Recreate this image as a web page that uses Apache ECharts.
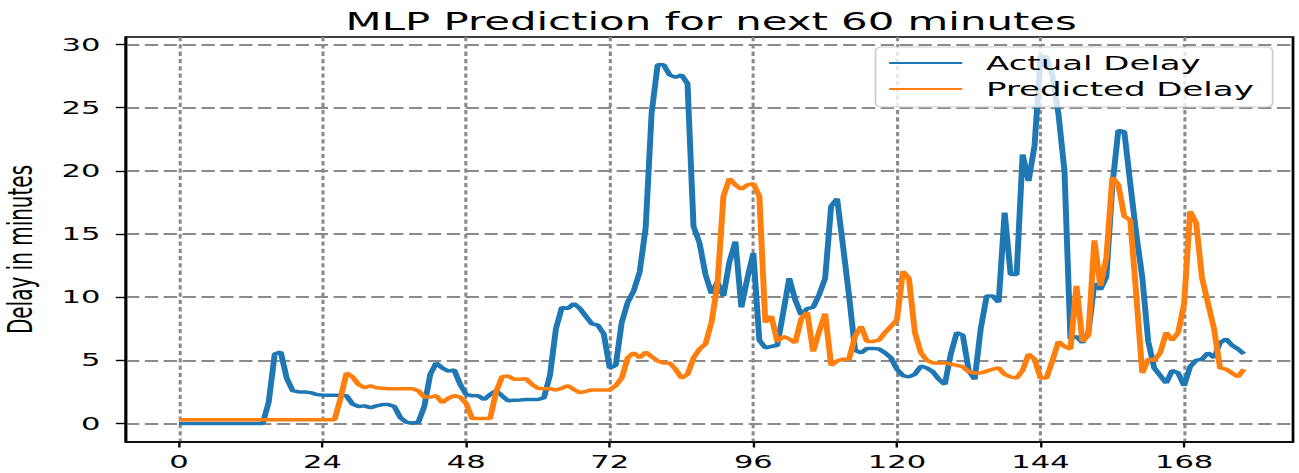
<!DOCTYPE html>
<html>
<head>
<meta charset="utf-8">
<script src="https://cdn.jsdelivr.net/npm/echarts@6/dist/echarts.min.js"></script>
<style>
html,body{margin:0;padding:0;background:#fff;overflow:hidden;width:1299px;height:473px;}
#wrap{position:absolute;left:0;top:0;height:473px;transform-origin:0 0;}
</style>
</head>
<body>
<div id="wrap"></div>
<script>
// ---- data ----
const actualDelay = [
  0,0,0,0,0,0,0,0,0,0, 0,0,0,0,0,1.7,5.5,5.66,3.6,2.6,
  2.5,2.5,2.45,2.3,2.25,2.25,2.25,2.25,2.2,1.55, 1.35,1.4,1.25,1.4,1.5,1.5,1.35,0.47,0.1,0.05,
  0.1,1.35,3.9,4.8,4.4,4.15,4.24,3.1,2.3,2.2, 2.2,1.9,2.3,2.6,2.2,1.8,1.85,1.87,1.9,1.9,
  1.9,2.05,3.8,7.5,9.2,9.1,9.5,9.1,8.5,7.9, 7.8,7.1,4.4,4.6,8.0,9.6,10.5,12.0,15.5,24.6,
  28.4,28.4,27.6,27.4,27.6,26.9,15.6,14.3,11.8,10.3, 11.2,10.1,12.8,14.4,9.2,11.5,13.5,6.6,6.0,6.1,
  6.2,8.8,11.5,9.8,8.6,9.1,9.2,10.2,11.5,17.2, 17.8,14.0,10.1,5.8,5.6,5.95,5.95,5.9,5.6,5.2,
  4.3,3.8,3.7,3.9,4.55,4.4,4.1,3.5,3.1,5.5, 7.2,7.0,4.2,3.5,7.5,10.1,10.1,9.6,16.7,11.8,
  11.8,21.3,19.2,22.0,29.1,29.0,27.5,24.5,20.0,6.7, 6.9,6.4,7.2,11.1,10.6,11.6,18.8,23.2,23.1,19.0,
  15.0,11.6,6.5,4.4,3.8,3.2,4.2,4.0,3.0,4.5, 5.0,5.1,5.6,5.2,6.4,6.7,6.2,5.9,5.5
];
const predictedDelay = [
  0.3,0.3,0.3,0.3,0.3,0.3,0.3,0.3,0.3,0.3, 0.3,0.3,0.3,0.3,0.3,0.3,0.3,0.3,0.3,0.3,
  0.3,0.3,0.3,0.3,0.3,0.3,0.3,2.0,4.0,3.7, 3.1,2.84,3.0,2.84,2.8,2.76,2.76,2.76,2.76,2.76,
  2.6,2.1,2.1,2.2,1.66,2.0,2.2,2.1,1.6,0.4, 0.4,0.4,0.4,2.5,3.7,3.76,3.5,3.5,3.55,3.1,
  2.8,2.76,2.76,2.65,2.8,3.0,2.7,2.45,2.55,2.66, 2.66,2.66,2.66,3.0,3.6,5.2,5.6,5.2,5.66,5.3,
  4.95,4.8,4.8,4.3,3.6,3.9,5.2,5.9,6.3,8.0, 11.0,18.0,19.4,18.9,18.55,18.9,19.0,18.0,8.0,8.5,
  6.5,6.9,6.7,6.4,8.3,8.8,5.7,7.3,8.7,4.6, 4.95,5.1,5.1,6.9,7.7,6.5,6.5,6.6,7.2,7.7,
  8.2,12.05,11.5,7.2,5.6,5.0,4.8,4.8,4.8,4.7, 4.6,4.5,4.1,4.0,4.0,4.15,4.3,4.4,3.9,3.7,
  3.6,4.2,5.5,5.1,3.6,3.6,5.0,6.5,6.1,5.9, 10.9,6.5,7.0,14.5,10.9,13.1,19.5,18.9,16.4,16.1,
  10.2,4.0,5.1,5.0,5.6,7.2,6.6,7.2,9.5,16.8, 15.9,11.5,9.5,7.5,4.4,4.3,4.0,3.7,4.3
];
const xTicks = [0, 24, 48, 72, 96, 120, 144, 168];
const yTicks = [0, 5, 10, 15, 20, 25, 30];
const seriesNames = ['Actual Delay', 'Predicted Delay'];
const titleText = 'MLP Prediction for next 60 minutes';
const yLabel = 'Delay in minutes';

// ---- layout (horizontal stretch like reference) ----
const S = 1.7;
const W = 1299 / S;
const H = 473;
const wrap = document.getElementById('wrap');
wrap.style.width = W + 'px';
wrap.style.transform = 'scale(' + S + ',1)';

const FONT = 'DejaVu Sans';
const chart = echarts.init(wrap, null, {renderer: 'svg', width: W, height: H});

const actualPts = actualDelay.map((v, i) => [i, v]);
const predPts = predictedDelay.map((v, i) => [i, v]);

chart.setOption({
  animation: false,
  backgroundColor: '#fff',
  title: {
    text: titleText,
    left: (74.1 + 760.6) / 2 - 4,
    textAlign: 'center',
    top: 4,
    textStyle: {fontFamily: FONT, fontSize: 24.6, fontWeight: 'normal', color: '#000'}
  },
  legend: {
    orient: 'vertical',
    left: 515,
    top: 47,
    z: 20,
    itemWidth: 43,
    itemHeight: 20,
    itemGap: 6,
    padding: [6, 11, 8, 7],
    backgroundColor: 'rgba(255,255,255,0.8)',
    borderColor: '#cccccc',
    borderWidth: 1,
    borderRadius: 4,
    lineStyle: {width: 2},
    itemStyle: {opacity: 0},
    textStyle: {fontFamily: FONT, fontSize: 20, color: '#000', padding: [0, 0, 0, 9]},
    data: seriesNames
  },
  grid: {
    left: 74.1, right: W - 760.6, top: 37, bottom: H - 442,
    outerBoundsMode: 'none',
    show: true, borderColor: '#000', borderWidth: 1.6, backgroundColor: 'transparent',
    containLabel: false
  },
  xAxis: {
    type: 'value',
    min: -8.86,
    max: 186.2,
    axisLine: {show: true, onZero: false, lineStyle: {color: '#000', width: 1.6}},
    axisTick: {show: true, length: 5.5, lineStyle: {color: '#000', width: 1.4}, customValues: xTicks},
    axisLabel: {customValues: xTicks, fontFamily: FONT, fontSize: 18, color: '#000', margin: 11},
    splitLine: {show: true, lineStyle: {color: '#8a8a8a', width: 1.8, type: [4.3, 3]}}
  },
  yAxis: {
    type: 'value',
    min: -1.46,
    max: 30.6,
    name: yLabel,
    nameLocation: 'middle',
    nameGap: 52,
    nameTextStyle: {fontFamily: FONT, fontSize: 20, color: '#000', padding: [0, 20, 0, 0]},
    axisLine: {show: true, onZero: false, lineStyle: {color: '#000', width: 1.6}},
    axisTick: {show: true, length: 6, lineStyle: {color: '#000', width: 1.4}, customValues: yTicks},
    axisLabel: {customValues: yTicks, fontFamily: FONT, fontSize: 18, color: '#000', margin: 15},
    splitLine: {show: true, lineStyle: {color: '#8a8a8a', width: 1.8, type: [7.8, 3.3]}}
  },
  series: [
    {
      name: seriesNames[0], type: 'line', data: actualPts,
      symbol: 'none', showSymbol: false,
      lineStyle: {color: '#1f77b4', width: 3.5}, itemStyle: {color: '#1f77b4'}, z: 2
    },
    {
      name: seriesNames[1], type: 'line', data: predPts,
      symbol: 'none', showSymbol: false,
      lineStyle: {color: '#ff7f0e', width: 3.5}, itemStyle: {color: '#ff7f0e'}, z: 2
    }
  ]
});
</script>
</body>
</html>
